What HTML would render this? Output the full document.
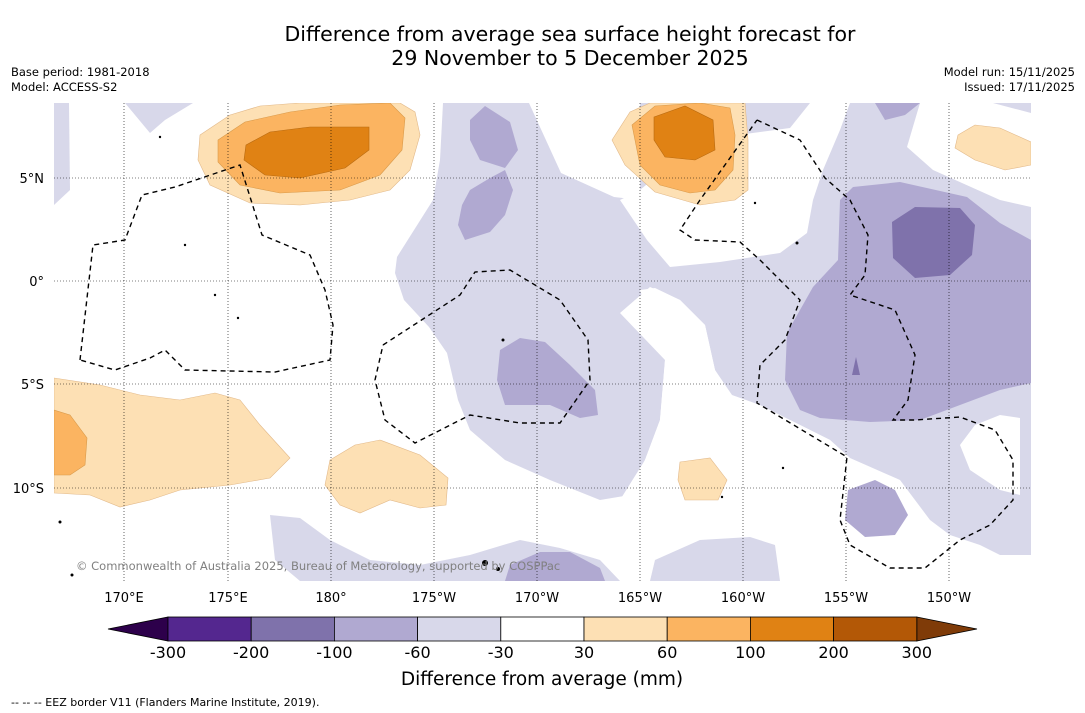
<!DOCTYPE html>
<html><head><meta charset="utf-8"><style>
body{margin:0;background:#fff;width:1085px;height:713px;overflow:hidden;font-family:"DejaVu Sans","Liberation Sans",sans-serif;}
.t{position:absolute;color:#000;}
</style></head><body>
<div style="position:relative;width:1085px;height:713px;">
<div class="t" style="left:0;width:1140px;top:22px;text-align:center;font-size:20.5px;line-height:24px;">Difference from average sea surface height forecast for<br>29 November to 5 December 2025</div>
<div class="t" style="left:11px;top:65px;font-size:11.5px;line-height:15px;">Base period: 1981-2018<br>Model: ACCESS-S2</div>
<div class="t" style="right:10px;top:65px;font-size:11.5px;line-height:15px;text-align:right;">Model run: 15/11/2025<br>Issued: 17/11/2025</div>
<svg width="1085" height="713" style="position:absolute;left:0;top:0">
<defs><clipPath id="mc"><rect x="54" y="103" width="977" height="478"/></clipPath></defs>
<g clip-path="url(#mc)">
<rect x="54" y="103" width="977" height="478" fill="#fff"/>
<g fill="#d8d8ea">
<path d="M54,103 L69,103 L70,190 L54,205Z"/>
<path d="M125,103 L193,103 L165,120 L150,133Z"/>
<path d="M443,103 L1031,103 L1031,555 L1000,555 L980,545 L950,535 L930,520 L900,480 L850,458 L830,440 L790,420 L760,405 L732,395 L715,370 L705,325 L680,300 L655,288 L640,290 L650,320 L665,360 L660,420 L645,460 L630,495 L600,500 L550,480 L505,460 L470,430 L458,400 L447,353 L429,327 L404,300 L395,273 L397,257 L433,200 L440,160Z"/>
<path d="M270,515 L300,518 L330,540 L370,560 L420,565 L470,555 L520,540 L560,548 L600,560 L620,581 L300,581 L275,560Z"/>
</g>
<g fill="#fff">
<path d="M529,103 L640,103 L640,200 L614,197 L561,173Z"/>
<path d="M700,140 L790,128 L810,103 L850,103 L840,130 L823,170 L813,200 L807,233 L780,253 L720,262 L670,267 L647,240 L620,200 L640,190Z"/>
<path d="M920,103 L993,103 L1031,113 L1031,207 L1000,200 L933,170 L907,147Z"/>
<path d="M650,287 L680,300 L705,325 L715,370 L727,393 L732,420 L790,420 L830,440 L850,458 L830,581 L640,581 L620,500 L645,460 L660,420 L665,360 L620,313Z"/>
<path d="M960,445 L975,425 L1000,415 L1020,418 L1020,495 L1000,490 L970,470Z"/>
</g>
<path d="M655,560 L700,540 L750,537 L775,545 L780,581 L650,581Z" fill="#d8d8ea"/>
<g fill="#b0a9d1">
<path d="M470,120 L485,106 L510,122 L518,150 L505,168 L480,160 L470,140Z"/>
<path d="M470,190 L490,178 L505,170 L513,190 L505,215 L490,232 L465,240 L458,225 L462,205Z"/>
<path d="M500,350 L520,338 L545,342 L570,365 L595,390 L598,415 L580,418 L550,405 L505,405 L497,380Z"/>
<path d="M840,200 L853,187 L900,182 L967,197 L1000,223 L1031,240 L1031,383 L1000,390 L960,405 L920,420 L870,422 L820,418 L800,410 L785,380 L787,333 L813,287 L838,260Z"/>
<path d="M848,490 L875,480 L895,490 L908,515 L895,535 L865,537 L845,520Z"/>
<path d="M875,103 L920,103 L905,115 L885,120Z"/>
<path d="M510,565 L540,552 L570,552 L600,568 L605,581 L505,581Z"/>
</g>
<path d="M892,222 L915,207 L960,208 L975,225 L972,255 L950,275 L915,278 L893,258Z" fill="#7f72ab"/>
<path d="M852,375 L856,357 L860,375Z" fill="#7f72ab"/>
<g fill="#fde0b4" stroke="#e2b98a" stroke-width="0.6">
<path d="M200,135 L230,115 L260,106 L300,103 L400,103 L415,112 L420,135 L410,170 L390,190 L350,200 L300,205 L250,203 L210,185 L198,160Z"/>
<path d="M612,140 L630,112 L650,103 L745,103 L748,140 L748,190 L735,200 L700,205 L655,192 L625,165Z"/>
<path d="M958,135 L975,125 L1000,128 L1031,142 L1031,165 L1005,170 L975,160 L955,148Z"/>
<path d="M54,378 L100,385 L140,395 L180,400 L215,393 L240,400 L260,425 L290,458 L270,478 L230,485 L180,490 L150,500 L120,507 L90,495 L54,493Z"/>
<path d="M330,460 L355,445 L380,440 L420,455 L448,478 L446,505 L420,508 L390,500 L360,513 L340,505 L325,485Z"/>
<path d="M680,462 L710,458 L727,480 L718,500 L685,500 L678,480Z"/>
</g>
<g fill="#fbb461" stroke="#d99a4a" stroke-width="0.6">
<path d="M218,140 L245,122 L290,112 L340,105 L390,103 L405,118 L402,150 L380,175 L340,190 L280,193 L240,185 L218,162Z"/>
<path d="M632,125 L655,106 L700,103 L730,108 L735,135 L733,170 L715,190 L690,193 L660,185 L640,165Z"/>
<path d="M54,410 L70,415 L87,438 L85,465 L70,475 L54,475Z"/>
</g>
<g fill="#e08214" stroke="#b86a10" stroke-width="0.6">
<path d="M246,145 L270,132 L310,127 L369,127 L369,150 L345,168 L300,178 L265,175 L244,160Z"/>
<path d="M654,117 L685,106 L713,120 L715,150 L695,160 L665,157 L654,140Z"/>
</g>
<g stroke="#000" stroke-width="0.6" stroke-dasharray="1,2">
<line x1="124" y1="103" x2="124" y2="581"/><line x1="228" y1="103" x2="228" y2="581"/><line x1="331" y1="103" x2="331" y2="581"/><line x1="434" y1="103" x2="434" y2="581"/><line x1="537" y1="103" x2="537" y2="581"/><line x1="640" y1="103" x2="640" y2="581"/><line x1="743" y1="103" x2="743" y2="581"/><line x1="846" y1="103" x2="846" y2="581"/><line x1="949" y1="103" x2="949" y2="581"/>
<line x1="54" y1="178" x2="1031" y2="178"/><line x1="54" y1="281" x2="1031" y2="281"/><line x1="54" y1="384" x2="1031" y2="384"/><line x1="54" y1="488" x2="1031" y2="488"/>
</g>
<g fill="none" stroke="#000" stroke-width="1.4" stroke-dasharray="5,4">
<path d="M80,360 L93,245 L125,240 L142,195 L175,187 L240,165 L262,235 L310,255 L325,290 L333,325 L330,360 L275,372 L185,370 L165,350 L150,358 L115,370 L80,360"/>
<path d="M383,345 L460,295 L475,272 L510,270 L560,300 L588,340 L590,380 L560,423 L520,423 L470,415 L415,443 L385,420 L375,380 L383,345"/>
<path d="M757,120 L800,140 L825,178 L850,200 L868,235 L865,275 L850,295 L895,310 L915,355 L908,400 L893,420 L915,420 L960,417 L995,430 L1013,460 L1013,500 L990,525 L960,540 L925,568 L890,568 L850,545 L840,520 L847,457 L757,403 L760,365 L785,340 L800,300 L760,260 L740,242 L695,240 L680,230 L700,200 L757,120"/>
</g>
<g fill="#000">
<circle cx="160" cy="137" r="1.2"/><circle cx="185" cy="245" r="1.2"/><circle cx="215" cy="295" r="1.2"/><circle cx="238" cy="318" r="1.2"/><circle cx="503" cy="340" r="1.5"/><circle cx="722" cy="497" r="1.2"/><circle cx="755" cy="203" r="1.2"/><circle cx="797" cy="243" r="1.5"/><circle cx="60" cy="522" r="1.5"/><circle cx="72" cy="575" r="1.5"/><circle cx="485" cy="563" r="3"/><circle cx="498" cy="569" r="2"/><circle cx="783" cy="468" r="1.2"/>
</g>
</g>
<text x="76" y="570" font-size="11.5" fill="#808080" font-family="DejaVu Sans, sans-serif">© Commonwealth of Australia 2025, Bureau of Meteorology, supported by COSPPac</text>
<g font-size="13" font-family="DejaVu Sans, sans-serif" fill="#000" text-anchor="middle">
<text x="124" y="602">170°E</text><text x="228" y="602">175°E</text><text x="331" y="602">180°</text><text x="434" y="602">175°W</text><text x="537" y="602">170°W</text><text x="640" y="602">165°W</text><text x="743" y="602">160°W</text><text x="846" y="602">155°W</text><text x="949" y="602">150°W</text>
</g>
<g font-size="13" font-family="DejaVu Sans, sans-serif" fill="#000" text-anchor="end">
<text x="44" y="183">5°N</text><text x="44" y="286">0°</text><text x="44" y="389">5°S</text><text x="44" y="493">10°S</text>
</g>
<g id="cbar"></g>
<text x="542" y="685" font-size="18.5" text-anchor="middle" font-family="DejaVu Sans, sans-serif">Difference from average (mm)</text>
<text x="11" y="706" font-size="11" font-family="DejaVu Sans, sans-serif">-- -- -- EEZ border V11 (Flanders Marine Institute, 2019).</text>
</svg>
</div>
<script>
const levels = [-300,-200,-100,-60,-30,30,60,100,200,300];
const colors = ["#54278f","#7f72ab","#b0a9d1","#d8d8ea","#ffffff","#fde0b4","#fbb461","#e08214","#b35806"];
const extLow = "#2d004b", extHigh = "#7f3b08";
const g = document.getElementById('cbar');
const ns = "http://www.w3.org/2000/svg";
const x0 = 168, w = 83.2, y0 = 617, h = 24;
function xi(i){return x0 + i*w;}
function mk(tag, attrs){const e=document.createElementNS(ns,tag);for(const k in attrs)e.setAttribute(k,attrs[k]);g.appendChild(e);return e;}
const lo = mk('polygon',{points:`108,629 ${x0},${y0} ${x0},${y0+h}`,fill:extLow,stroke:'#000','stroke-width':0.8});


const xe = xi(colors.length);
const hi = mk('polygon',{points:`${xe},${y0} 977,629 ${xe},${y0+h}`,fill:extHigh,stroke:'#000','stroke-width':0.8});


colors.forEach((c,i)=>{
  const r = mk('rect',{x:xi(i),y:y0,width:w,height:h,fill:c,stroke:'#000','stroke-width':0.8});
  
  
});
levels.forEach((v,i)=>{
  const t = mk('text',{x:xi(i),y:658,'font-size':16,'text-anchor':'middle','font-family':'DejaVu Sans, sans-serif'});
  t.textContent = v;
  
  
});
</script>
</body></html>
